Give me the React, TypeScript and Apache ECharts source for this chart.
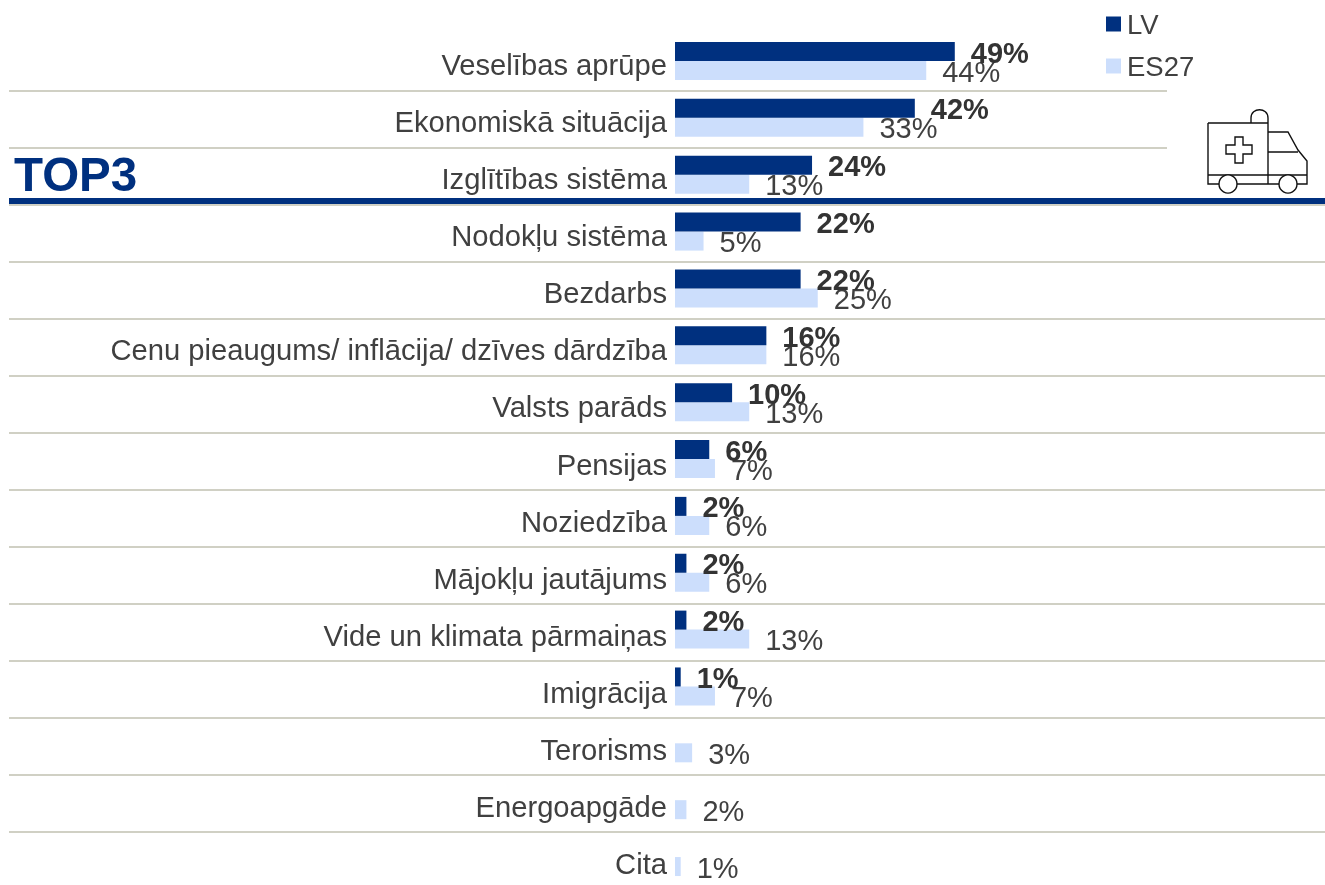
import React, { useEffect, useRef } from "react";
import * as echarts from "echarts";

const categories = ["Veselības aprūpe", "Ekonomiskā situācija", "Izglītības sistēma", "Nodokļu sistēma", "Bezdarbs", "Cenu pieaugums/ inflācija/ dzīves dārdzība", "Valsts parāds", "Pensijas", "Noziedzība", "Mājokļu jautājums", "Vide un klimata pārmaiņas", "Imigrācija", "Terorisms", "Energoapgāde", "Cita"];
const lvValues = [49, 42, 24, 22, 22, 16, 10, 6, 2, 2, 2, 1, null, null, null];
const es27Values = [44, 33, 13, 5, 25, 16, 13, 7, 6, 6, 13, 7, 3, 2, 1];

const NAVY = "#00307F";
const LIGHT = "#CCDEFC";
const RULE = "#D0D0C4";
const FONT = "'Liberation Sans', Arial, sans-serif";
const GRID_TOP = 32.57;
const STEP = 56.86;
const LABEL_TOP = 36.3;
const LABEL_STEP = 57.1;

const AMBULANCE =
  "M1208 123 L1268 123 L1268 184 M1208 123 L1208 184 L1219 184 M1237 184 L1279 184 M1297 184 L1307 184 L1307 161 L1298 150 L1288 132 L1268 132 " +
  "M1268 152 L1298 152 M1208 175 L1307 175 " +
  "M1251 123 L1251 118 C1251 107 1268 107 1268 118 L1268 123 " +
  "M1235 137 L1243 137 L1243 145 L1252 145 L1252 154 L1243 154 L1243 163 L1235 163 L1235 154 L1226 154 L1226 145 L1235 145 Z";
echarts.graphic.registerShape("ambulance", echarts.graphic.extendPath(AMBULANCE, {}) as any);

export default function App() {
  const ref = useRef<HTMLDivElement>(null);
  useEffect(() => {
    const chart = echarts.init(ref.current!, null, { renderer: "svg" });
    const rules: any[] = categories.slice(0, -1).map((_, i) => {
      const y = Math.round(89.5 + 57.05 * i);
      return {
        type: "rect",
        silent: true,
        shape: { x: 9, y, width: (i < 2 ? 1167 : 1325) - 9, height: 2 },
        style: { fill: RULE },
      };
    });
    chart.setOption({
      animation: false,
      legend: {
        orient: "vertical",
        left: 1101,
        top: 5,
        itemWidth: 15,
        itemHeight: 15,
        itemGap: 14,
        icon: "rect",
        textStyle: { fontFamily: FONT, fontSize: 27.5, color: "#404040", padding: [0, 0, 0, 1] },
        data: ["LV", "ES27"],
      },
      grid: [
        { left: 675, top: GRID_TOP, width: 650, height: STEP * categories.length, outerBoundsMode: "none" },
        { left: 675, top: LABEL_TOP, width: 650, height: LABEL_STEP * categories.length, outerBoundsMode: "none" },
      ],
      xAxis: [
        { type: "value", min: 0, max: 650 / 5.71, show: false },
        { type: "value", min: 0, max: 100, show: false, gridIndex: 1 },
      ],
      yAxis: [
        {
          type: "category",
          inverse: true,
          data: categories,
          axisLine: { show: false },
          axisTick: { show: false },
          axisLabel: { show: false },
        },
        {
          type: "category",
          gridIndex: 1,
          inverse: true,
          data: categories,
          axisLine: { show: false },
          axisTick: { show: false },
          axisLabel: { fontFamily: FONT, fontSize: 29.2, color: "#404040", margin: 8, interval: 0 },
        },
      ],
      series: [
        {
          name: "LV",
          type: "bar",
          data: lvValues,
          barWidth: 19,
          barGap: "0%",
          itemStyle: { color: NAVY },
          label: { show: true, position: "right", distance: 16, offset: [0, 1], formatter: "{c}%", fontFamily: FONT, fontSize: 29, fontWeight: "bold", color: "#333333" },
          z: 3,
        },
        {
          name: "ES27",
          type: "bar",
          data: es27Values,
          barWidth: 19,
          itemStyle: { color: LIGHT },
          label: { show: true, position: "right", distance: 16, offset: [0, 1], formatter: "{c}%", fontFamily: FONT, fontSize: 29, color: "#404040" },
          z: 2,
        },
      ],
      graphic: [
        ...rules,
        { type: "rect", silent: true, shape: { x: 9, y: 198, width: 1316, height: 6 }, style: { fill: NAVY } },
        { type: "text", x: 14, y: 150, style: { text: "TOP3", fontFamily: FONT, fontSize: 47.5, fontWeight: "bold", fill: NAVY } },
        { type: "ambulance", silent: true, style: { fill: "none", stroke: "#111111", lineWidth: 1.4 } },
        { type: "circle", silent: true, shape: { cx: 1228, cy: 184, r: 9 }, style: { fill: "#fff", stroke: "#111111", lineWidth: 1.4 } },
        { type: "circle", silent: true, shape: { cx: 1288, cy: 184, r: 9 }, style: { fill: "#fff", stroke: "#111111", lineWidth: 1.4 } },
      ],
    });
    return () => chart.dispose();
  }, []);
  return <div ref={ref} style={{ position: "fixed", left: 0, top: 0, width: 1325, height: 885 }} />;
}
